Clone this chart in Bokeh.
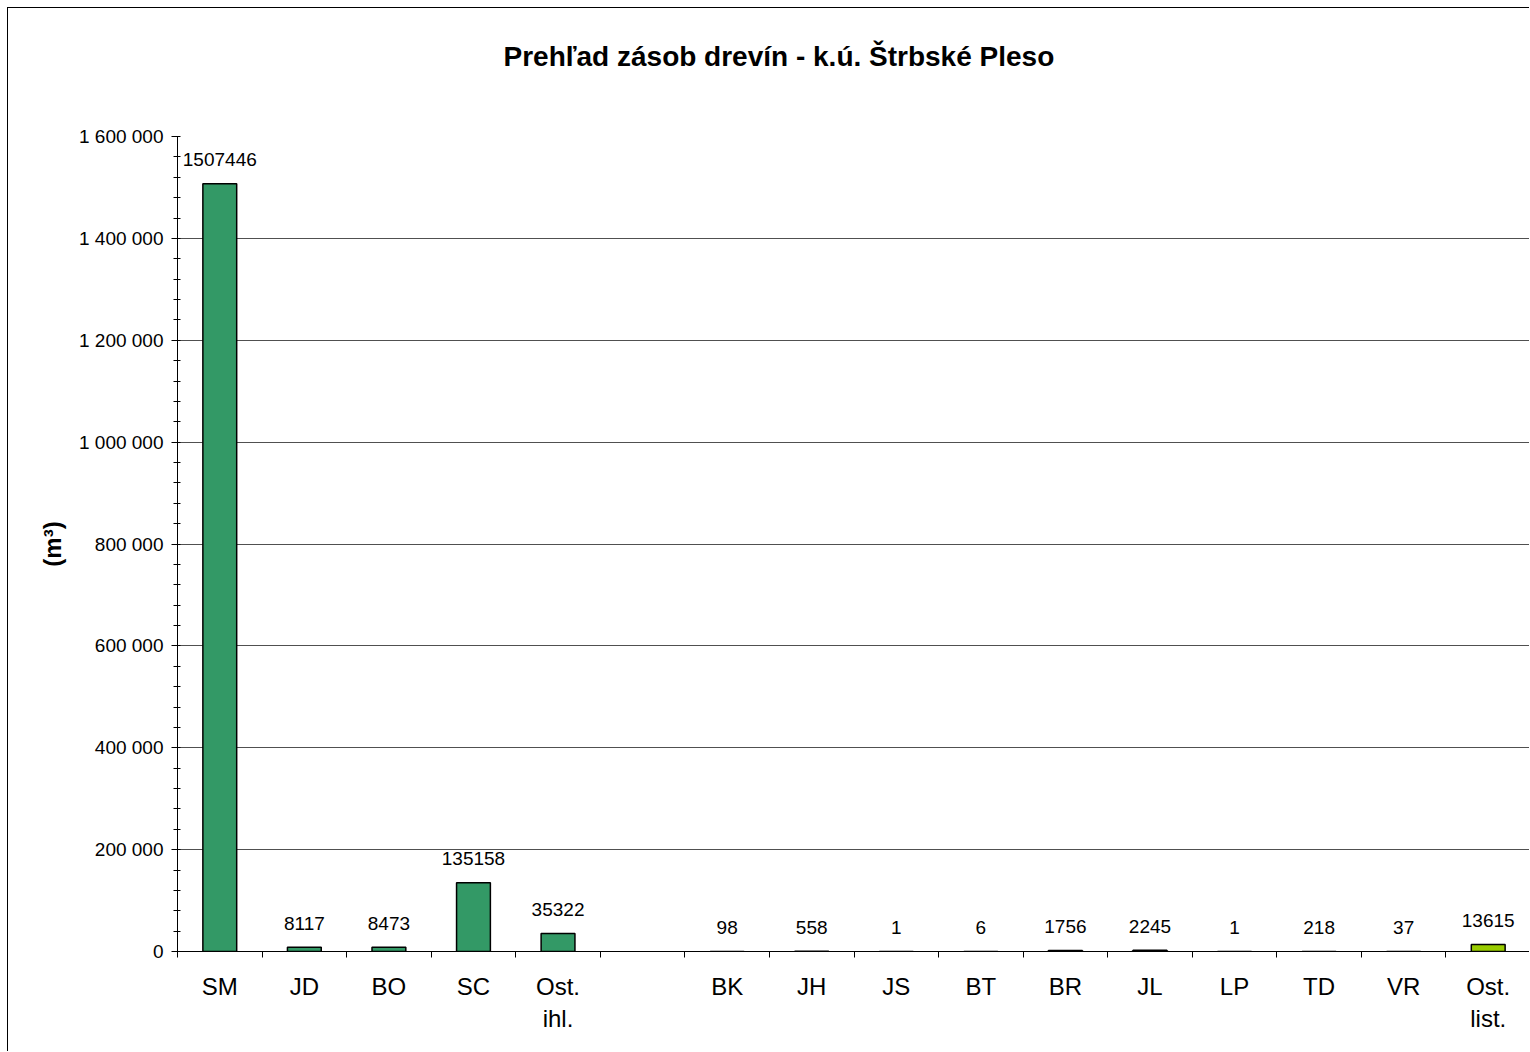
from bokeh.plotting import figure
from bokeh.models import Range1d, FixedTicker, SingleIntervalTicker, ColumnDataSource, Title
from bokeh.embed import file_html
from bokeh.resources import INLINE
from bokeh.core.properties import value

# Tree species (conifers, a blank spacer column, then broadleaves)
categories = ["SM", "JD", "BO", "SC", "Ost.\nihl.", "",
              "BK", "JH", "JS", "BT", "BR", "JL", "LP", "TD", "VR", "Ost.\nlist."]
# Growing stock per species in m3 (None = spacer column)
volumes = [1507446, 8117, 8473, 135158, 35322, None,
           98, 558, 1, 6, 1756, 2245, 1, 218, 37, 13615]
groups = ["ihl", "ihl", "ihl", "ihl", "ihl", "",
          "list", "list", "list", "list", "list", "list", "list", "list", "list", "list"]
group_colors = {"ihl": "#339966", "list": "#99CC00"}

y_ticks = [0, 200000, 400000, 600000, 800000, 1000000, 1200000, 1400000, 1600000]

FONT = "Liberation Sans"

n = len(categories)
centers = [i + 0.5 for i in range(n)]

xs, tops, colors, labels = [], [], [], []
for c, v, g in zip(centers, volumes, groups):
    if v is None:
        continue
    xs.append(c)
    tops.append(v)
    colors.append(group_colors[g])
    labels.append(str(v))
src = ColumnDataSource(dict(x=xs, top=tops, color=colors, label=labels))

p = figure(width=1522, height=1044,
           x_range=Range1d(0, n), y_range=Range1d(0, y_ticks[-1]),
           output_backend="svg", toolbar_location=None,
           min_border_left=169, min_border_right=0,
           min_border_top=128, min_border_bottom=101)
p.styles = {"margin-left": "7px", "margin-top": "7px",
            "border-left": "1px solid black", "border-top": "1px solid black"}

p.background_fill_color = "white"
p.border_fill_color = "white"
p.outline_line_color = None

p.vbar(x="x", top="top", width=0.4, bottom=0, source=src,
       fill_color="color", line_color="black", line_width=1.5)

p.text(x="x", y="top", text="label", source=src,
       text_align="center", text_baseline="alphabetic", y_offset=-24,
       text_font=value(FONT), text_font_size="19px", text_color="black")

# x axis: labels at column centres, short ticks at column boundaries
xa = p.xaxis[0]
xa.ticker = FixedTicker(ticks=centers, minor_ticks=list(range(n + 1)))
xa.major_label_overrides = {c: lab for c, lab in zip(centers, categories)}
xa.major_tick_line_color = None
xa.major_tick_in = 0
xa.major_tick_out = 0
xa.minor_tick_in = 0
xa.minor_tick_out = 6
xa.minor_tick_line_color = "black"
xa.axis_line_color = "black"
xa.major_label_text_font = FONT
xa.major_label_text_font_size = "24px"
xa.major_label_text_color = "black"
xa.major_label_standoff = 15

# y axis
ya = p.yaxis[0]
ya.ticker = SingleIntervalTicker(interval=200000, num_minor_ticks=5)
ya.major_label_overrides = {t: f"{t:,}".replace(",", " ") for t in y_ticks}
ya.major_tick_in = 0
ya.major_tick_out = 6
ya.minor_tick_in = 3
ya.minor_tick_out = 4
ya.major_tick_line_color = "black"
ya.minor_tick_line_color = "black"
ya.axis_line_color = "black"
ya.major_label_text_font = FONT
ya.major_label_text_font_size = "19px"
ya.major_label_text_color = "black"
ya.major_label_standoff = 8
ya.axis_label = "(m³)"
ya.axis_label_text_font = FONT
ya.axis_label_text_font_size = "24px"
ya.axis_label_text_font_style = "bold"
ya.axis_label_text_color = "black"
ya.axis_label_standoff = 10

p.xgrid.visible = False
p.ygrid.grid_line_color = "#505050"
p.ygrid.grid_line_width = 1

# spacer between the title and the plot area, then the title itself
p.add_layout(Title(text=" ", text_font_size="43px"), "above")
p.add_layout(Title(text="Prehľad zásob drevín - k.ú. Štrbské Pleso",
                   text_font=FONT, text_font_size="28px", text_font_style="bold",
                   text_color="black", align="left", offset=326), "above")

open("out.html", "w").write(file_html(p, INLINE))
